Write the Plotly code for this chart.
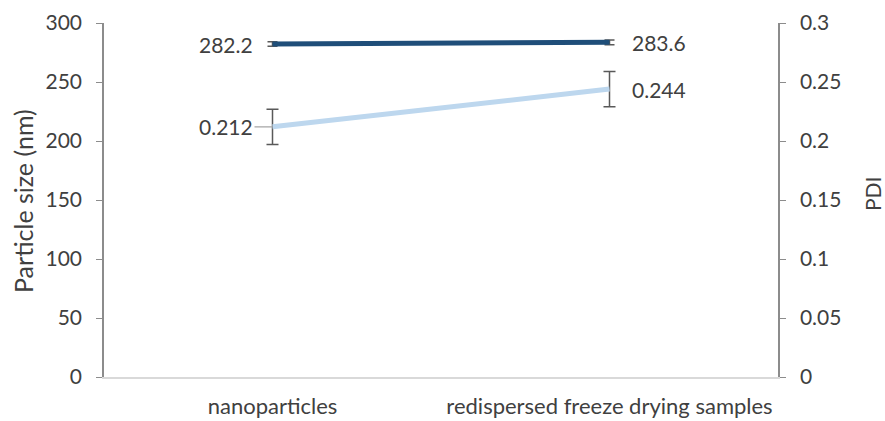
import plotly.graph_objects as go

categories = ["nanoparticles", "redispersed freeze drying samples"]
size_nm = [282.2, 283.6]
size_err = [2.0, 2.0]
pdi = [0.212, 0.244]
pdi_err = [0.015, 0.015]

left_ticks = [0, 50, 100, 150, 200, 250, 300]
right_ticks = [0, 0.05, 0.1, 0.15, 0.2, 0.25, 0.3]
right_tick_text = ["0", "0.05", "0.1", "0.15", "0.2", "0.25", "0.3"]

font_family = "Lato"
text_color = "#404040"
axis_gray = "#8c8c8c"

W, H = 885, 421
ML, MR, MT, MB = 104, 107, 23, 44
plot_w = W - ML - MR
plot_h = H - MT - MB


def px_to_paper_x(px):
    return (px - ML) / plot_w


def px_to_paper_y(py):
    return (H - MB - py) / plot_h


fig = go.Figure()

fig.add_trace(go.Scatter(
    x=[0, 1], y=size_nm, mode="lines",
    line=dict(color="#1F4E79", width=5),
    error_y=dict(type="data", array=size_err, color="#595959", thickness=1.5, width=5),
    showlegend=False, yaxis="y", cliponaxis=False,
))
fig.add_trace(go.Scatter(
    x=[0, 1], y=pdi, mode="lines",
    line=dict(color="#BDD7EE", width=5),
    error_y=dict(type="data", array=pdi_err, color="#595959", thickness=1.5, width=6),
    showlegend=False, yaxis="y2", cliponaxis=False,
))

lbl_font = dict(family=font_family, size=21, color=text_color)
fig.add_annotation(x=0, y=size_nm[0], yref="y", text=f"{size_nm[0]:.1f}", showarrow=False,
                   xanchor="right", xshift=-18, font=lbl_font)
fig.add_annotation(x=1, y=size_nm[1], yref="y", text=f"{size_nm[1]:.1f}", showarrow=False,
                   xanchor="left", xshift=20, font=lbl_font)
fig.add_annotation(x=0, y=pdi[0], yref="y2", text=f"{pdi[0]:.3f}", showarrow=True,
                   arrowhead=0, arrowwidth=1.3, arrowcolor="#a6a6a6", ax=-18, ay=0,
                   xanchor="right", font=lbl_font, standoff=0)
fig.add_annotation(x=1, y=pdi[1], yref="y2", text=f"{pdi[1]:.3f}", showarrow=False,
                   xanchor="left", xshift=20, font=lbl_font)

# axis titles
fig.add_annotation(x=px_to_paper_x(23), xref="paper", y=px_to_paper_y(201), yref="paper",
                   xanchor="center", yanchor="middle", text="Particle size (nm)",
                   showarrow=False, textangle=-90,
                   font=dict(family=font_family, size=25, color=text_color))
fig.add_annotation(x=px_to_paper_x(872), xref="paper", y=px_to_paper_y(194), yref="paper",
                   xanchor="center", yanchor="middle", text="PDI",
                   showarrow=False, textangle=-90,
                   font=dict(family=font_family, size=21, color=text_color))

fig.update_layout(
    width=W, height=H,
    margin=dict(l=ML, r=MR, t=MT, b=MB, autoexpand=False),
    plot_bgcolor="white", paper_bgcolor="white",
    font=dict(family=font_family, size=18, color=text_color),
    xaxis=dict(
        range=[-0.5, 1.5], tickvals=[0, 1], ticktext=categories, automargin=False,
        showgrid=False, zeroline=False, showline=True, linecolor="#d9d9d9", linewidth=1.5,
        ticks="", tickfont=dict(size=22, color=text_color), ticklabelstandoff=9,
    ),
    yaxis=dict(
        range=[0, 300], tickvals=left_ticks, showgrid=False, zeroline=False, automargin=False,
        showline=True, linecolor=axis_gray, linewidth=1.5,
        ticks="outside", ticklen=6, tickcolor=axis_gray, tickwidth=1.3,
        tickfont=dict(size=21, color=text_color), ticklabelstandoff=10,
    ),
    yaxis2=dict(
        range=[0, 0.3], tickvals=right_ticks, ticktext=right_tick_text, automargin=False,
        overlaying="y", side="right", showgrid=False, zeroline=False,
        showline=True, linecolor=axis_gray, linewidth=1.5,
        ticks="outside", ticklen=6, tickcolor=axis_gray, tickwidth=1.3,
        tickfont=dict(size=21, color=text_color), ticklabelstandoff=10,
    ),
)

fig.write_html("out.html")
